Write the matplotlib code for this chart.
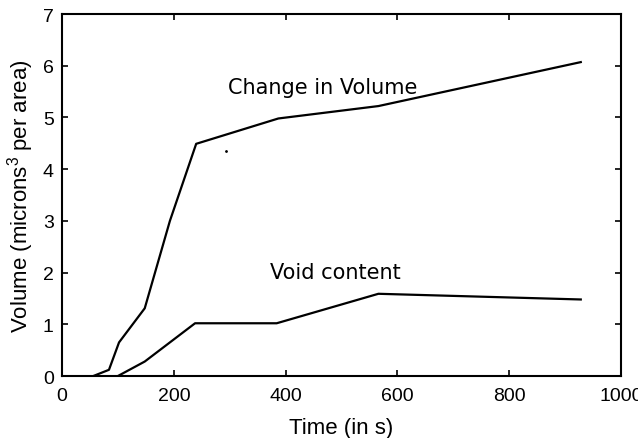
import matplotlib
matplotlib.use("Agg")
import matplotlib.pyplot as plt

# data
t_change = [56, 84, 102, 148, 193, 240, 387, 566, 928]
v_change = [0.0, 0.12, 0.65, 1.31, 3.0, 4.49, 4.98, 5.22, 6.07]

t_void = [100, 148, 238, 384, 566, 928]
v_void = [0.0, 0.28, 1.02, 1.02, 1.59, 1.48]

stray_t = [293]
stray_v = [4.35]

plt.rcParams['font.family'] = ['Liberation Sans', 'DejaVu Sans']
plt.rcParams['mathtext.fontset'] = 'custom'
plt.rcParams['mathtext.rm'] = 'Liberation Sans'

fig = plt.figure(figsize=(6.38, 4.39), dpi=100)
ax = fig.add_axes([0.0972, 0.1412, 0.8762, 0.8246])

ax.plot(t_change, v_change, color='black', lw=1.6)
ax.plot(t_void, v_void, color='black', lw=1.6)
ax.plot(stray_t, stray_v, 'k.', ms=2)

ax.text(297, 5.59, "Change in Volume", family='DejaVu Sans', fontsize=15, va='center')
ax.text(372, 2.01, "Void content", family='DejaVu Sans', fontsize=15, va='center')

ax.set_xlim(0, 1000)
ax.set_ylim(0, 7)
ax.set_xticks(range(0, 1001, 200))
ax.set_yticks(range(0, 8))
ax.tick_params(direction='in', top=True, right=True, labelsize=14, length=4, width=1.2)
ax.tick_params(axis='x', pad=8)
ax.tick_params(axis='y', pad=6)
for s in ax.spines.values():
    s.set_linewidth(1.5)

ax.set_xlabel("Time (in s)", fontsize=16, labelpad=9)
ax.set_ylabel("Volume (microns$^\\mathregular{3}$ per area)", fontsize=16, labelpad=5)

fig.savefig("out.png", dpi=100)
